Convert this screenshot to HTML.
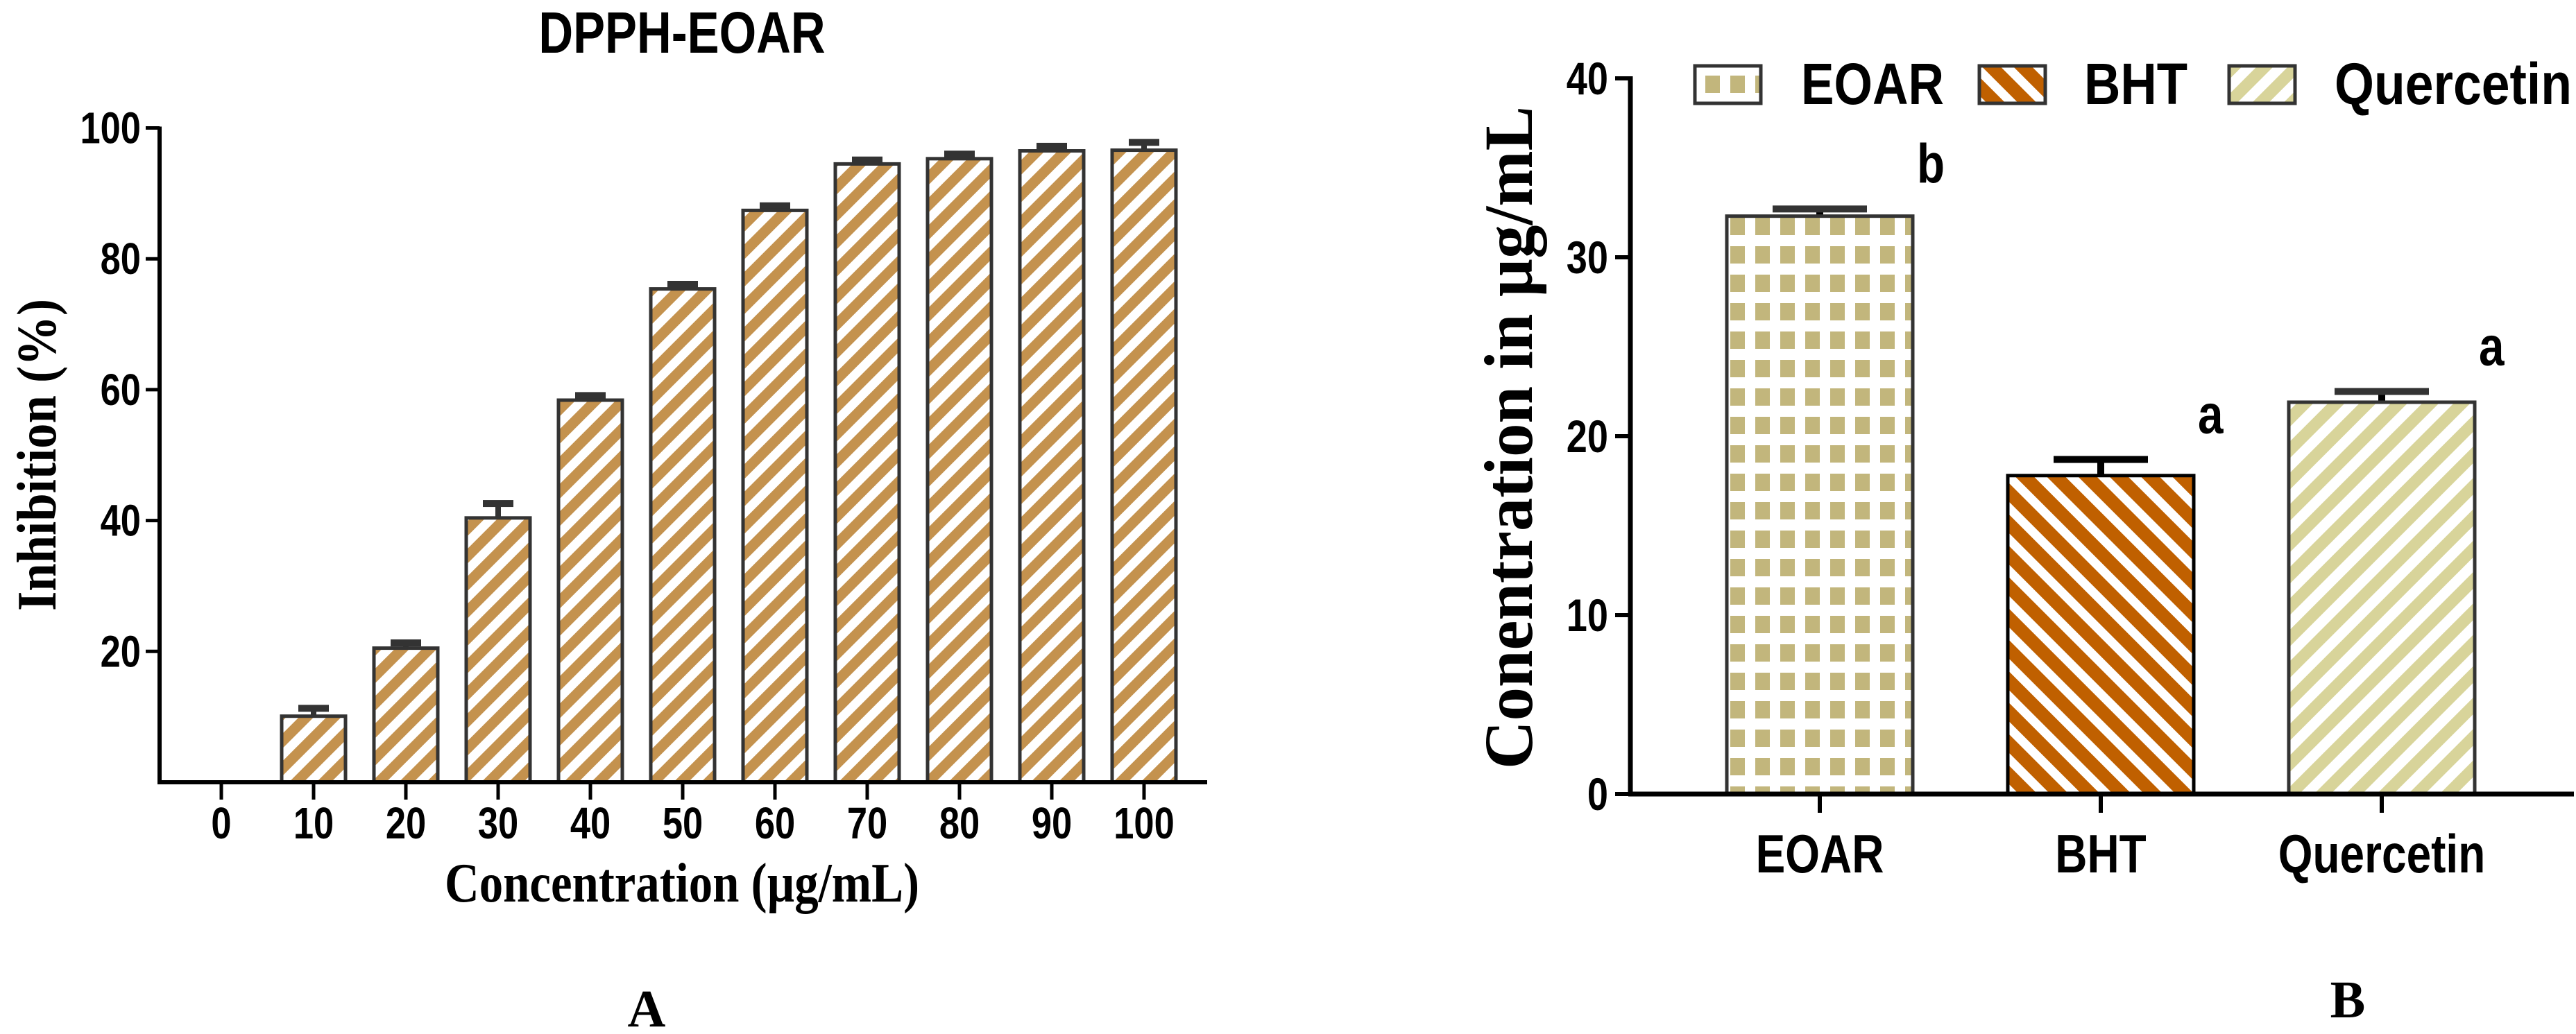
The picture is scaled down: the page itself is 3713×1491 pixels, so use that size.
<!DOCTYPE html>
<html><head><meta charset="utf-8"><style>
html,body{margin:0;padding:0;background:#fff}
svg{display:block}
.tk{font-family:"Liberation Sans Narrow","Liberation Sans",sans-serif;font-weight:bold;fill:#000}
.tm{font-family:"Liberation Serif",serif;font-weight:bold;fill:#000}
</style></head><body>
<svg id="s" width="3713" height="1491" viewBox="0 0 3713 1491" xmlns="http://www.w3.org/2000/svg">
<defs>
<pattern id="pA" patternUnits="userSpaceOnUse" width="28" height="28" patternTransform="rotate(45)"><rect width="28" height="28" fill="#fff"/><rect width="15" height="28" fill="#c4924e"/></pattern>
<pattern id="pE" patternUnits="userSpaceOnUse" width="36" height="41" x="2494" y="150"><rect width="36" height="41" fill="#fff"/><rect width="21" height="25" fill="#c2b67c"/></pattern>
<pattern id="pB" patternUnits="userSpaceOnUse" width="32" height="32" patternTransform="rotate(-45)"><rect width="32" height="32" fill="#fff"/><rect width="19" height="32" fill="#c06000"/></pattern>
<pattern id="pQ" patternUnits="userSpaceOnUse" width="32" height="32" patternTransform="rotate(45)"><rect width="32" height="32" fill="#fff"/><rect width="17" height="32" fill="#d8d49a"/></pattern>
</defs>
<g id="gA"></g>
<g id="gB"></g>
</svg>
<script>
// Chart A data
const catsA = ["0","10","20","30","40","50","60","70","80","90","100"];
const valsA = [0,10.1,20.5,40.4,58.4,75.4,87.4,94.5,95.3,96.5,96.6];
const errsA = [0,1.2,0.8,2.2,0.7,0.7,0.7,0.6,0.7,0.7,1.2];
const ticksA = [20,40,60,80,100];
// Chart B data
const catsB = ["EOAR","BHT","Quercetin"];
const valsB = [32.3,17.8,21.9];
const errsB = [0.4,0.9,0.6];
const ticksB = [0,10,20,30,40];
const lettersB = ["b","a","a"];
const fillsB = ["url(#pE)","url(#pB)","url(#pQ)"];

const NS="http://www.w3.org/2000/svg";
const SX=0.82;
function mk(parent,tag,attrs,text){const e=document.createElementNS(NS,tag);for(const k in attrs)e.setAttribute(k,attrs[k]);if(text!==undefined)e.textContent=text;parent.appendChild(e);return e;}
function nt(parent,x,y,anchor,size,text){return mk(parent,'text',{x:0,y:0,'text-anchor':anchor,'font-size':size,class:'tk',transform:'translate('+x+','+y+') scale('+SX+',1)'},text);}

// ---- Chart A ----
const gA=document.getElementById('gA');
const yA=v=>1128-(v/100)*943.5;
const xA=i=>319+i*133;
const bwA=92;
valsA.forEach((v,i)=>{
  if(v<=0)return;
  const x=xA(i)-bwA/2, top=yA(v);
  const eTop=yA(v+errsA[i]);
  const st=mk(gA,'rect',{x:xA(i)-4,y:eTop,width:8,height:top-eTop,fill:'#333'});
  
  
  const cap=mk(gA,'rect',{x:xA(i)-22,y:eTop-5,width:44,height:10,fill:'#333'});
  
  
  const b=mk(gA,'rect',{x:x,y:top,width:bwA,height:1128-top,fill:'url(#pA)',stroke:'#333','stroke-width':5});
  
  
});
catsA.forEach((c,i)=>{
  const t=mk(gA,'line',{x1:xA(i),x2:xA(i),y1:1128,y2:1153,stroke:'#000','stroke-width':5});
  
  
  const l=nt(gA,xA(i),1209,'middle',64,c);
  
  
});
ticksA.forEach(v=>{
  const t=mk(gA,'line',{x1:210,x2:230,y1:yA(v),y2:yA(v),stroke:'#000','stroke-width':5});
  
  
  const l=nt(gA,203,yA(v)+22,'end',64,String(v));
  
  
});
mk(gA,'line',{x1:230,x2:230,y1:yA(100)-2,y2:1130,stroke:'#000','stroke-width':6,});
mk(gA,'line',{x1:227,x2:1740,y1:1128,y2:1128,stroke:'#000','stroke-width':6,});
const ttl=nt(gA,983,76,'middle',84,'DPPH-EOAR');


mk(gA,'text',{x:983,y:1300,'text-anchor':'middle','font-size':80,class:'tm',textLength:684,lengthAdjust:'spacingAndGlyphs',},'Concentration (µg/mL)');
mk(gA,'text',{x:0,y:0,'text-anchor':'middle','font-size':80,class:'tm',textLength:450,lengthAdjust:'spacingAndGlyphs',transform:'translate(80,656) rotate(-90)',},'Inhibition (%)');
mk(gA,'text',{x:932,y:1480,'text-anchor':'middle','font-size':76,class:'tm',},'A');

// ---- Chart B ----
const gB=document.getElementById('gB');
const yB=v=>1145-(v/40)*1032;
const xB=i=>2623+i*405;
const bwB=268;
valsB.forEach((v,i)=>{
  const x=xB(i)-bwB/2, top=yB(v), eTop=yB(v+errsB[i]);
  const st=mk(gB,'rect',{x:xB(i)-5,y:eTop,width:10,height:top-eTop,fill:'#000'});
  
  
  const cap=mk(gB,'rect',{x:xB(i)-68,y:eTop-5,width:136,height:10,fill:i==1?'#000':'#333'});
  
  
  const b=mk(gB,'rect',{x:x,y:top,width:bwB,height:1145-top,fill:fillsB[i],stroke:i==1?'#000':'#333','stroke-width':5});
  
  
  const lt=nt(gB,xB(i)+140,yB(v+errsB[i])-38,'start',80,lettersB[i]);
  
  
  const t=mk(gB,'line',{x1:xB(i),x2:xB(i),y1:1145,y2:1172,stroke:'#000','stroke-width':6});
  
  
  const l=nt(gB,xB(i),1258,'middle',78,catsB[i]);
  
  
});
ticksB.forEach(v=>{
  const t=mk(gB,'line',{x1:2328,x2:2350,y1:yB(v),y2:yB(v),stroke:'#000','stroke-width':6});
  
  
  const l=nt(gB,2318,yB(v)+23,'end',66,String(v));
  
  
});
mk(gB,'line',{x1:2350,x2:2350,y1:yB(40)-3,y2:1148,stroke:'#000','stroke-width':7,});
mk(gB,'line',{x1:2347,x2:3710,y1:1145,y2:1145,stroke:'#000','stroke-width':7,});
mk(gB,'text',{x:0,y:0,'text-anchor':'middle','font-size':100,class:'tm',textLength:956,lengthAdjust:'spacingAndGlyphs',transform:'translate(2208,631) rotate(-90)',},'Conentration in µg/mL');
// legend
const leg=[[2443,2596,'EOAR',206],[2853,3004,'BHT',149],[3213,3365,'Quercetin',342]];
leg.forEach((L,i)=>{
  const g=mk(gB,'g',{});
  
  
  mk(g,'rect',{x:L[0],y:95,width:95,height:54,fill:fillsB[i],stroke:'#333','stroke-width':5});
  mk(g,'text',{x:L[1],y:150,'font-size':84,class:'tk',textLength:L[3],lengthAdjust:'spacingAndGlyphs'},L[2]);
});
mk(gB,'text',{x:3384,y:1467,'text-anchor':'middle','font-size':76,class:'tm',},'B');
</script>
</body></html>
